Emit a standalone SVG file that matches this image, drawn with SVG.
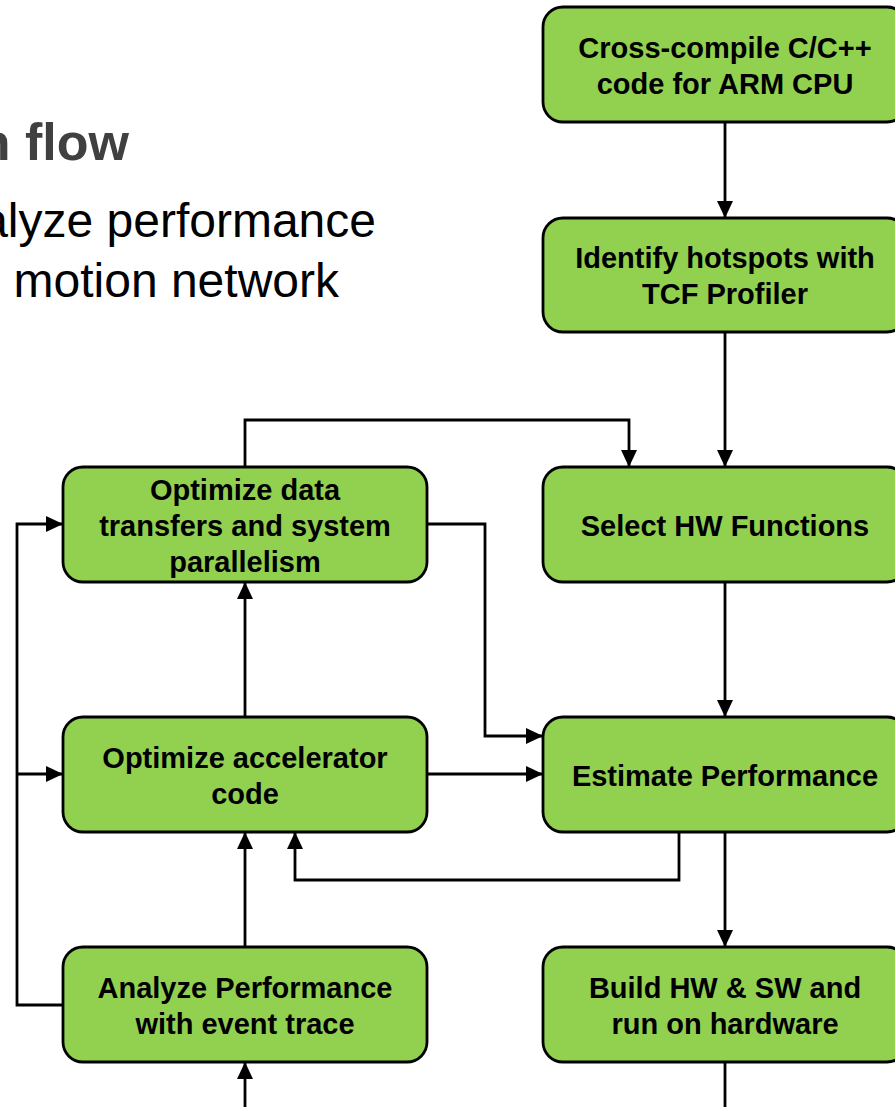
<svg xmlns="http://www.w3.org/2000/svg" width="895" height="1107" viewBox="0 0 895 1107">
<style>
.box{fill:#92D050;stroke:#000;stroke-width:2.8}
.lbl{font-family:"Liberation Sans",Arial,sans-serif;font-weight:bold;font-size:29px;fill:#000;text-anchor:middle}
.conn{fill:none;stroke:#000;stroke-width:2.8}
.title{font-family:"Liberation Sans",Arial,sans-serif;font-weight:bold;font-size:52px;fill:#404040;text-anchor:end}
.body{font-family:"Liberation Sans",Arial,sans-serif;font-size:48px;fill:#000;text-anchor:end}
</style>
<defs>
<marker id="arr" markerUnits="userSpaceOnUse" markerWidth="17" markerHeight="17" viewBox="0 0 17 17" refX="17" refY="8.5" orient="auto">
<path d="M0,0.5 L17,8.5 L0,16.5 Z" fill="#000"/>
</marker>
</defs>
<rect width="895" height="1107" fill="#fff"/>
<text class="title" x="129" y="160">n flow</text>
<text class="body" x="376" y="237">alyze performance</text>
<text class="body" x="339" y="297">motion network</text>
<g id="connectors">
<path class="conn" d="M725,122 V218" marker-end="url(#arr)"/>
<path class="conn" d="M725,332 V467" marker-end="url(#arr)"/>
<path class="conn" d="M725,582 V717" marker-end="url(#arr)"/>
<path class="conn" d="M725,832 V947" marker-end="url(#arr)"/>
<path class="conn" d="M725,1062 V1107"/>
<path class="conn" d="M245,1107 V1062" marker-end="url(#arr)"/>
<path class="conn" d="M245,467 V420 H629 V467" marker-end="url(#arr)"/>
<path class="conn" d="M427,524 H485 V736 H543" marker-end="url(#arr)"/>
<path class="conn" d="M427,774 H543" marker-end="url(#arr)"/>
<path class="conn" d="M679,832 V880 H295 V832" marker-end="url(#arr)"/>
<path class="conn" d="M245,947 V832" marker-end="url(#arr)"/>
<path class="conn" d="M245,717 V582" marker-end="url(#arr)"/>
<path class="conn" d="M63,1005 H17 V524 H63" marker-end="url(#arr)"/>
<path class="conn" d="M17,774 H63" marker-end="url(#arr)"/>
</g>
<g id="n-crosscompile">
<rect class="box" x="543" y="7" width="364" height="115" rx="20"/>
<text class="lbl" x="725" y="57.5">Cross-compile C/C++</text>
<text class="lbl" x="725" y="93.5">code for ARM CPU</text>
</g>
<g id="n-hotspots">
<rect class="box" x="543" y="218" width="364" height="114" rx="20"/>
<text class="lbl" x="725" y="268">Identify hotspots with</text>
<text class="lbl" x="725" y="304">TCF Profiler</text>
</g>
<g id="n-select">
<rect class="box" x="543" y="467" width="364" height="115" rx="20"/>
<text class="lbl" x="725" y="535.5">Select HW Functions</text>
</g>
<g id="n-estimate">
<rect class="box" x="543" y="717" width="364" height="115" rx="20"/>
<text class="lbl" x="725" y="786">Estimate Performance</text>
</g>
<g id="n-build">
<rect class="box" x="543" y="947" width="364" height="115" rx="20"/>
<text class="lbl" x="725" y="997.5">Build HW &amp; SW and</text>
<text class="lbl" x="725" y="1033.5">run on hardware</text>
</g>
<g id="n-optdata">
<rect class="box" x="63" y="467" width="364" height="115" rx="20"/>
<text class="lbl" x="245" y="500">Optimize data</text>
<text class="lbl" x="245" y="536">transfers and system</text>
<text class="lbl" x="245" y="572">parallelism</text>
</g>
<g id="n-optaccel">
<rect class="box" x="63" y="717" width="364" height="115" rx="20"/>
<text class="lbl" x="245" y="768">Optimize accelerator</text>
<text class="lbl" x="245" y="804">code</text>
</g>
<g id="n-analyze">
<rect class="box" x="63" y="947" width="364" height="115" rx="20"/>
<text class="lbl" x="245" y="997.5">Analyze Performance</text>
<text class="lbl" x="245" y="1033.5">with event trace</text>
</g>
</svg>
